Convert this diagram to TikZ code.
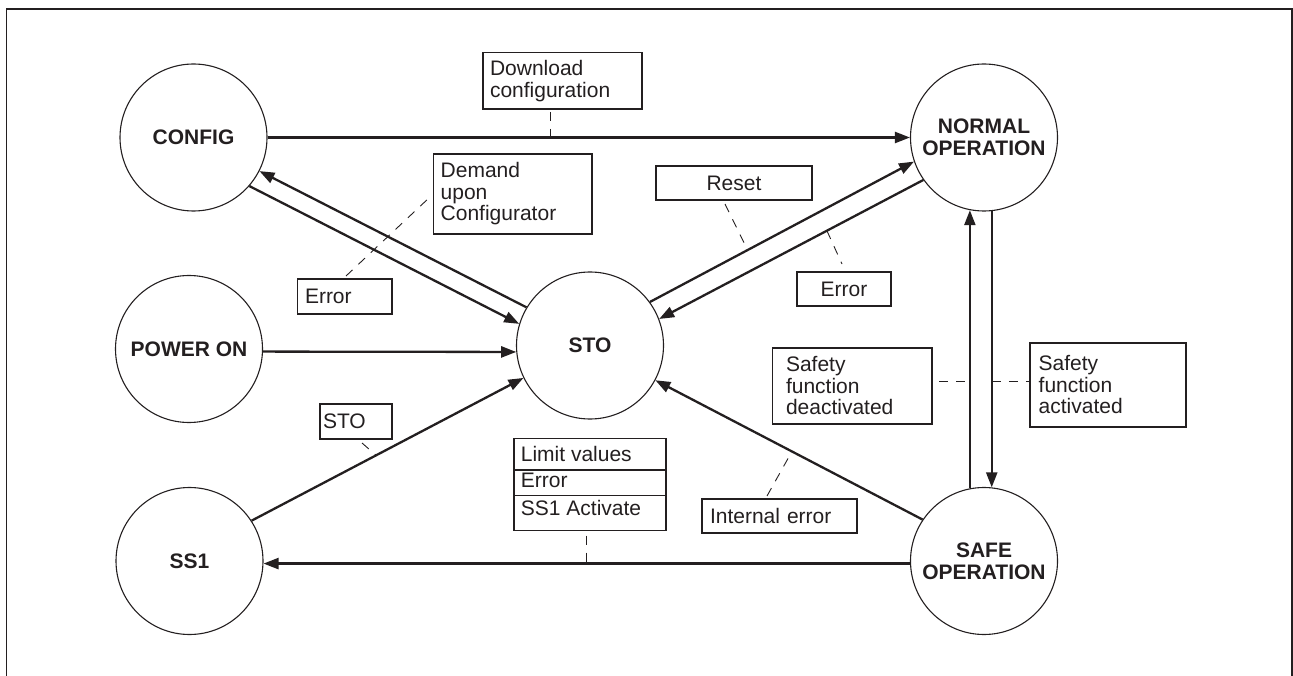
\documentclass[tikz,border=0pt]{standalone}
\usepackage{fontspec}
\setmainfont{Liberation Sans}
\usetikzlibrary{arrows.meta,calc}
\definecolor{ink}{RGB}{35,31,32}
\newcommand\lblfont{\fontsize{21}{21.5}\selectfont}
\newcommand\stfont{\fontsize{21}{22}\selectfont\bfseries}
\begin{document}
\begin{tikzpicture}[x=1pt,y=-1pt,
  state/.style={circle, draw=ink, line width=1.1pt, minimum size=147pt, inner sep=0pt, align=center, font=\stfont, text=ink},
  arr/.style={draw=ink, line width=2.3pt, -{Triangle[length=15pt,width=11pt]}},
  lbl/.style={draw=ink, line width=1.1pt, outer sep=0pt, inner ysep=0pt, anchor=north west, font=\lblfont, text=ink},
  lead/.style={draw=ink, line width=0.9pt, dash pattern=on 9pt off 8pt},
  divider/.style={draw=ink, line width=1.1pt},
  frameline/.style={draw=ink, line width=1.6pt}]

\useasboundingbox (0,0) rectangle (1293,676);
\draw[frameline] (6.5,676) -- (6.5,9) -- (1292,9) -- (1292,676);

% states
\node[state] (config)  at (193.5,137.5) {CONFIG};
\node[state] (normal)  at (984,137.5)   {NORMAL\\OPERATION};
\node[state] (poweron) at (189,349)     {POWER ON};
\node[state] (sto)     at (590,345.5)   {STO};
\node[state] (ss1)     at (189.5,561)   {SS1};
\node[state] (safe)    at (984,561)     {SAFE\\OPERATION};

% labels
\node[lbl, text width=145pt, inner xsep=7pt, minimum height=56.3pt, align=left] (dl) at (483,52.7) {Download\\configuration};
\node[lbl, text width=144.1pt, inner xsep=7.2pt, minimum height=80pt, align=left] (dem) at (433.5,154) {Demand\\upon\\Configurator};
\node[lbl, text width=79.5pt, inner xsep=7.5pt, minimum height=35pt, align=left] (err1) at (297.5,279) {Error};
\node[lbl, text width=156pt, inner xsep=0pt, minimum height=34pt, align=center] (rst) at (656,166) {Reset};
\node[lbl, text width=94pt, inner xsep=0pt, minimum height=34pt, align=center] (err2) at (797,272) {Error};
\node[lbl, text width=66pt, inner xsep=3pt, minimum height=35pt, align=left] (stob) at (320,404) {STO};
\node[lbl, text width=139pt, inner xsep=8pt, minimum height=34pt, align=left] (ie) at (702,499) {Internal error};
\node[lbl, text width=132.5pt, inner xsep=13.5pt, minimum height=76pt, align=left] (sdb) at (772.5,348) {Safety\\function\\deactivated};
\node[lbl, text width=138.6pt, inner xsep=8.7pt, minimum height=84pt, align=left] (sab) at (1030,343) {Safety\\function\\activated};

\node[lbl, minimum width=152pt, minimum height=92pt, inner sep=0pt] (lim) at (514,438.7) {};
\draw[divider] ($(lim.north west)+(0,31.3)$) -- ($(lim.north east)+(0,31.3)$);
\draw[divider] ($(lim.north west)+(0,57)$) -- ($(lim.north east)+(0,57)$);
\node[anchor=base west, inner sep=0pt, font=\lblfont, text=ink] (lim1) at ($(lim.north west)+(6.7,23)$) {Limit values};
\node[anchor=base west, inner sep=0pt, font=\lblfont, text=ink] (lim2) at ($(lim.north west)+(6.7,48.6)$) {Error};
\node[anchor=base west, inner sep=0pt, font=\lblfont, text=ink] (lim3) at ($(lim.north west)+(6.7,76.3)$) {SS1 Activate};

% transitions
\draw[arr] (config.east) -- coordinate[pos=0.44] (dlp) (normal.west);
\draw[arr] (config.-41) -- (sto.163);
\draw[arr] (sto.149) -- (config.-27);
\draw[arr] (poweron.-2) -- (sto.185);
\draw[arr] (ss1.33) -- coordinate[pos=0.458] (stp) (sto.206);
\draw[arr] (sto.36) -- coordinate[pos=0.37] (rsp) (normal.199);
\draw[arr] (normal.215) -- coordinate[pos=0.365] (erp) (sto.21);
\draw[arr] (safe.146) -- coordinate[pos=0.489] (iep) (sto.-28);
\draw[arr] (safe.182) -- coordinate[pos=0.5] (limp) (ss1.-2);
\draw[arr] (safe.101) -- coordinate[pos=0.383] (sdp) (normal.-101);
\draw[arr] (normal.-84) -- coordinate[pos=0.618] (sap) (safe.84);

% leaders
\draw[lead] ($(dlp |- dl.south)+(0,3)$) -- (dlp);
\draw[lead] ($(err1.north west)+(48.5,-3)$) -- ($(dem.north west)+(-3.5,43)$);
\draw[lead] ($(rst.south west)+(69,4)$) -- (rsp);
\draw[lead] (erp) -- ($(err2.north west)+(45,-8)$);
\draw[lead] ($(stob.south west)+(42,4)$) -- (stp);
\draw[lead] ($(limp |- lim.south)+(0,5)$) -- (limp);
\draw[lead] ($(ie.north west)+(65,-3)$) -- (iep);
\draw[lead] ($(sdp -| sdb.east)+(7,0)$) -- (sdp);
\draw[lead] (sap) -- ($(sap -| sab.west)+(-1,0)$);
\end{tikzpicture}
\end{document}
